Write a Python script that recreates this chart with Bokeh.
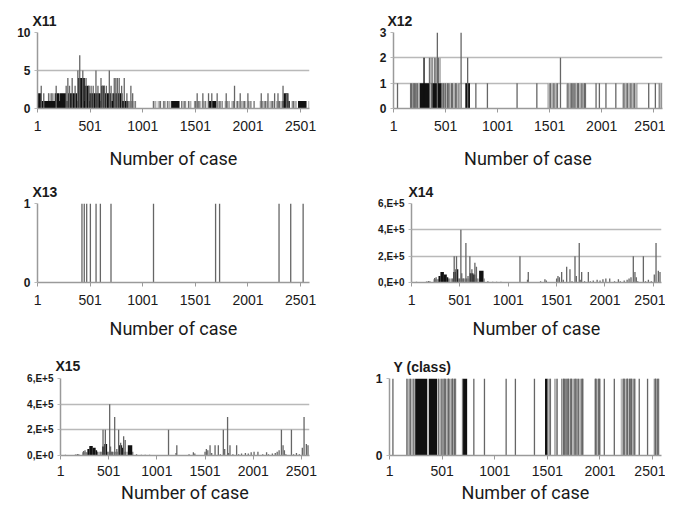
from bokeh.plotting import figure
from bokeh.models import Range1d, FixedTicker, Title
from bokeh.layouts import column, row
from bokeh.embed import file_html
from bokeh.resources import INLINE

# ---------------- data ----------------
N_CASES = 2585
X_TICKS = [1, 501, 1001, 1501, 2001, 2501]
X_LABEL = "Number of case"

# X11 : solid (all cases non-zero) blocks, mixed blocks, single spikes
X11_SOLID = [(1, 860, 1), (6, 38, 2), (166, 210, 2), (215, 272, 2), (290, 378, 2),
             (384, 450, 4), (450, 494, 3), (494, 600, 2), (604, 640, 3), (640, 700, 2),
             (713, 808, 2), (1271, 1350, 1), (1620, 1700, 1), (2330, 2398, 1),
             (2340, 2380, 2), (2477, 2557, 1)]
X11_MIXED = [(860, 937, 1), (100, 160, 2), (1096, 1128, 1), (1144, 1176, 1), (1192, 1223, 1),
             (1233, 1262, 1), (1366, 1414, 1), (1430, 1461, 1), (1487, 1556, 1), (1572, 1604, 1),
             (1715, 1763, 1), (1779, 1827, 1), (1842, 1868, 1), (1890, 1922, 1), (1938, 1985, 1),
             (2001, 2033, 1), (2049, 2065, 1), (2112, 2191, 1), (2207, 2255, 1), (2271, 2330, 1),
             (2414, 2461, 1), (2573, 2585, 1)]
X11_CASE = [36, 60, 178, 273, 289, 305, 330, 358, 384, 402, 431, 462, 488, 510, 530, 556,
            575, 604, 620, 635, 655, 683, 700, 730, 745, 760, 777, 800, 825, 850, 888, 905,
            1518, 1572, 1626, 1657, 1708, 1794, 1873, 1927, 2000, 2127, 2191, 2254, 2286,
            2334, 2366, 2382]
X11_VALUE = [3, 2, 3, 3, 4, 3, 4, 3, 5, 7, 5, 4, 3, 3, 3, 5,
             3, 4, 3, 3, 3, 5, 3, 4, 4, 4, 4, 3, 4, 2, 3, 2,
             2, 2, 2, 2, 2, 2, 3, 2, 2, 2, 2, 2, 2,
             3, 2, 2]

# X12
X12_SOLID = [(254, 349, 1), (365, 460, 1), (691, 735, 1), (288, 300, 2)]
X12_MIXED = [(159, 254, 1), (460, 634, 1), (387, 455, 2), (340, 352, 2), (1482, 1583, 1),
             (1662, 1852, 1), (2200, 2343, 1), (2549, 2582, 1)]
X12_CASE = [39, 175, 200, 215, 480, 520, 560, 600, 792, 903, 1188, 1378, 1947, 1979, 2042,
            2137, 2453, 2517, 1725, 1772, 1835, 349, 371, 713, 1605, 422, 650]
X12_VALUE = [1, 1, 1, 1, 1, 1, 1, 1, 1, 1, 1, 1, 1, 1, 1,
             1, 1, 1, 1, 1, 1, 2, 2, 2, 2, 3, 3]

# X13
X13_SOLID = []
X13_MIXED = []
X13_CASE = [423, 445, 468, 503, 557, 598, 699, 1103, 1693, 1731, 2296, 2407, 2525]
X13_VALUE = [1, 1, 1, 1, 1, 1, 1, 1, 1, 1, 1, 1, 1]

# X14
X14_SOLID = [(280, 300, 50000), (300, 335, 80000), (335, 365, 60000), (365, 380, 40000),
             (432, 455, 80000), (455, 484, 100000), (600, 640, 70000), (640, 660, 60000),
             (700, 745, 90000)]
X14_MIXED = [(225, 280, 25000), (380, 432, 30000), (484, 600, 30000), (660, 700, 30000)]
X14_CASE = [52, 156, 175, 190, 240, 255, 442, 466, 511, 520, 540, 563, 585, 604, 625, 656,
            672, 750, 790, 840, 880, 925, 1122, 1200, 1208, 1335, 1380, 1395, 1501, 1515,
            1530, 1553, 1570, 1605, 1639, 1660, 1691, 1705, 1735, 1745, 1760, 1790, 1829,
            1850, 1880, 1920, 1950, 1980, 2010, 2050, 2100, 2140, 2160, 2200, 2230, 2250,
            2270, 2294, 2311, 2325, 2340, 2398, 2420, 2450, 2480, 2511, 2529, 2553, 2570]
X14_VALUE = [5000, 8000, 12000, 10000, 35000, 40000, 200000, 200000, 400000, 70000, 30000,
             300000, 50000, 200000, 100000, 150000, 120000, 30000, 10000, 5000, 5000, 5000,
             200000, 20000, 80000, 10000, 25000, 15000, 30000, 50000, 40000, 80000, 20000,
             120000, 100000, 10000, 200000, 50000, 300000, 20000, 80000, 10000, 80000, 10000,
             15000, 20000, 15000, 25000, 30000, 30000, 10000, 25000, 10000, 15000, 20000,
             30000, 40000, 200000, 80000, 40000, 10000, 200000, 10000, 20000, 10000, 60000,
             300000, 90000, 80000]

# X15
X15_SOLID = [(280, 300, 50000), (300, 335, 75000), (335, 365, 60000), (365, 380, 40000),
             (432, 455, 70000), (455, 484, 90000), (600, 640, 80000), (640, 660, 60000),
             (700, 745, 80000)]
X15_MIXED = [(225, 280, 25000), (380, 432, 30000), (484, 600, 30000), (660, 700, 30000)]
X15_CASE = [52, 156, 175, 190, 240, 255, 442, 466, 511, 520, 540, 563, 585, 604, 625, 656,
            672, 750, 790, 840, 880, 925, 1122, 1200, 1208, 1335, 1380, 1395, 1501, 1515,
            1530, 1553, 1570, 1605, 1639, 1660, 1691, 1705, 1735, 1745, 1760, 1790, 1829,
            1850, 1880, 1920, 1950, 1980, 2010, 2050, 2100, 2140, 2160, 2200, 2230, 2250,
            2270, 2294, 2311, 2325, 2340, 2398, 2420, 2450, 2480, 2511, 2529, 2553, 2570]
X15_VALUE = [5000, 8000, 12000, 10000, 35000, 40000, 200000, 200000, 400000, 70000, 30000,
             300000, 50000, 200000, 100000, 150000, 120000, 30000, 10000, 5000, 5000, 5000,
             200000, 20000, 80000, 10000, 25000, 15000, 30000, 50000, 40000, 80000, 20000,
             80000, 80000, 10000, 200000, 50000, 300000, 20000, 80000, 10000, 80000, 10000,
             15000, 20000, 15000, 25000, 30000, 30000, 10000, 25000, 10000, 15000, 20000,
             30000, 40000, 200000, 80000, 40000, 10000, 200000, 10000, 20000, 10000, 60000,
             300000, 90000, 80000]

# Y (class)
Y_SOLID = [(245, 359, 1), (374, 453, 1), (1479, 1500, 1), (700, 738, 1)]
Y_MIXED = [(159, 240, 1), (460, 634, 1), (688, 700, 1), (1500, 1536, 1), (1568, 1599, 1),
           (1631, 1846, 1), (1947, 2010, 1), (2200, 2343, 1), (2510, 2564, 1)]
Y_CASE = [33, 802, 903, 1109, 1197, 1378, 2042, 2137, 2374, 2453, 1678, 1725, 1772, 1835,
          2283, 2300, 520, 560, 600, 620, 1655, 1700, 1960, 1990, 2230, 2260, 2530, 2550]
Y_VALUE = [1, 1, 1, 1, 1, 1, 1, 1, 1, 1, 1, 1, 1, 1,
           1, 1, 1, 1, 1, 1, 1, 1, 1, 1, 1, 1, 1, 1]

# ---------------- drawing ----------------
TICK_FONT = "Liberation Sans"
LABEL_FONT = "Roboto"
GRID = "#b9b9b9"
AXIS = "#9a9a9a"
INK = "#1a1a1a"
E_TICKS = [0, 200000, 400000, 600000]
E_LABELS = ["0,E+0", "2,E+5", "4,E+5", "6,E+5"]


def panel(w, h, left, right, top, bottom, y_end, yticks, ylabels, ysize,
          solid, mixed, cases, values, title, t_off, t_stand, tick_gap, label_gap):
    p = figure(width=w, height=h, output_backend="svg", toolbar_location=None,
               x_range=Range1d(0.5, N_CASES + 0.5), y_range=Range1d(0, y_end),
               min_border_left=left, min_border_right=right,
               min_border_top=top, min_border_bottom=bottom)
    p.title = Title(text=title, align="left", offset=t_off, standoff=t_stand,
                    text_font=TICK_FONT, text_font_style="bold", text_font_size="14px",
                    text_color=INK)
    p.outline_line_color = None
    p.xgrid.visible = False
    p.ygrid.ticker = FixedTicker(ticks=yticks)
    p.ygrid.grid_line_color = GRID
    p.ygrid.grid_line_width = 1.5

    if mixed:
        p.quad(left=[m[0] - 0.5 for m in mixed], right=[m[1] + 0.5 for m in mixed],
               bottom=0, top=[m[2] for m in mixed],
               fill_color="#b8b8b8", line_color=None,
               hatch_pattern="vertical_line", hatch_color="#4a4a4a",
               hatch_scale=3.5, hatch_weight=1)
    if solid:
        p.quad(left=[s[0] - 0.5 for s in solid], right=[s[1] + 0.5 for s in solid],
               bottom=0, top=[s[2] for s in solid],
               fill_color="#111111", line_color=None)
    p.segment(x0=cases, y0=0, x1=cases, y1=values, line_color="#666666", line_width=1.3)

    xa = p.xaxis[0]
    xa.ticker = FixedTicker(ticks=X_TICKS)
    xa.axis_line_color = AXIS
    xa.axis_line_width = 1.5
    xa.major_tick_line_color = AXIS
    xa.major_tick_out = 4
    xa.major_tick_in = 0
    xa.minor_tick_line_color = None
    xa.major_label_text_font = TICK_FONT
    xa.major_label_text_font_size = "14px"
    xa.major_label_text_color = INK
    xa.major_label_standoff = tick_gap
    xa.axis_label = X_LABEL
    xa.axis_label_text_font = LABEL_FONT
    xa.axis_label_text_font_style = "normal"
    xa.axis_label_text_font_size = "18px"
    xa.axis_label_text_color = INK
    xa.axis_label_standoff = label_gap

    ya = p.yaxis[0]
    ya.ticker = FixedTicker(ticks=yticks)
    ya.major_label_overrides = {t: lab for t, lab in zip(yticks, ylabels)}
    ya.axis_line_color = AXIS
    ya.axis_line_width = 1.5
    ya.major_tick_line_color = GRID
    ya.major_tick_out = 3
    ya.major_tick_in = 0
    ya.minor_tick_line_color = None
    ya.major_label_text_font = TICK_FONT
    ya.major_label_text_font_style = "bold"
    ya.major_label_text_font_size = ysize
    ya.major_label_text_color = INK
    ya.major_label_standoff = 4
    return p


p11 = panel(348, 176, 37, 39, 31, 68, 10, [0, 5, 10], ["0", "5", "10"], "12px",
            X11_SOLID, X11_MIXED, X11_CASE, X11_VALUE, "X11", -5, 7, 8, 14)
p12 = panel(317, 176, 45, 3, 32, 68, 3, [0, 1, 2, 3], ["0", "1", "2", "3"], "12px",
            X12_SOLID, X12_MIXED, X12_CASE, X12_VALUE, "X12", -6, 8, 8, 14)
p13 = panel(348, 168, 37, 39, 27, 62, 1, [0, 1], ["0", "1"], "12px",
            X13_SOLID, X13_MIXED, X13_CASE, X13_VALUE, "X13", -5, 7, 8, 10)
p14 = panel(317, 168, 63, 4, 27, 62, E_TICKS[-1], E_TICKS, E_LABELS, "10px",
            X14_SOLID, X14_MIXED, X14_CASE, X14_VALUE, "X14", -3, 8, 8, 10)
p15 = panel(348, 161, 60, 39, 34, 50, E_TICKS[-1], E_TICKS, E_LABELS, "10px",
            X15_SOLID, X15_MIXED, X15_CASE, X15_VALUE, "X15", -5, 10, 6, 3)
p16 = panel(317, 161, 41, 4, 34, 50, 1, [0, 1], ["0", "1"], "12px",
            Y_SOLID, Y_MIXED, Y_CASE, Y_VALUE, "Y (class)", 4, 7, 6, 3)

layout = column(row(p11, p12), row(p13, p14), row(p15, p16))

with open("out.html", "w") as f:
    f.write(file_html(layout, INLINE))
